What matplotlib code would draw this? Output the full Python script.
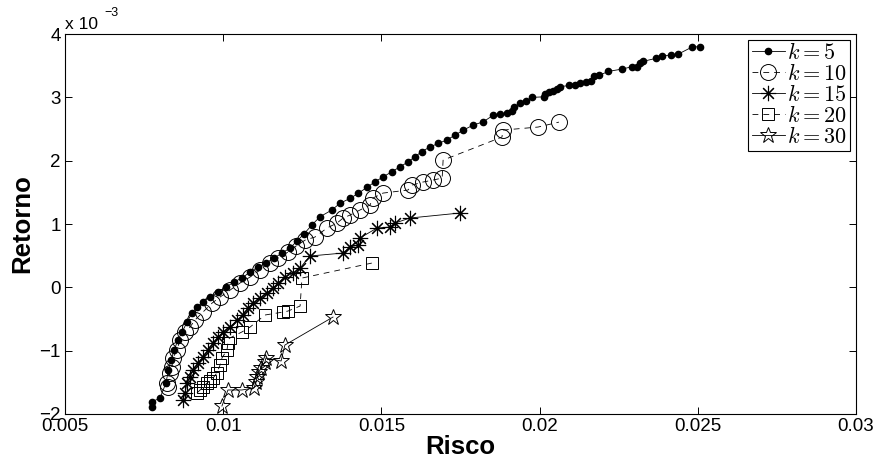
import matplotlib
matplotlib.use('Agg')
import matplotlib.pyplot as plt

plt.rcParams['font.family'] = ['Liberation Sans', 'DejaVu Sans']
plt.rcParams['mathtext.fontset'] = 'cm'

# risco (x) e retorno (y, em unidades de 1e-3)
risco_k5 = [0.00774, 0.00774, 0.00800, 0.00819, 0.00827, 0.00835, 0.00845, 0.00857,
            0.00870, 0.00886, 0.00901, 0.00917, 0.00936, 0.00958, 0.00984, 0.01009,
            0.01034, 0.01059, 0.01085, 0.01110, 0.01135, 0.01161, 0.01186, 0.01211,
            0.01233, 0.01255, 0.01280, 0.01306, 0.01343, 0.01369, 0.01401, 0.01427,
            0.01454, 0.01480, 0.01506, 0.01533, 0.01559, 0.01585, 0.01606, 0.01627,
            0.01654, 0.01680, 0.01706, 0.01733, 0.01759, 0.01790, 0.01822, 0.01854,
            0.01875, 0.01896, 0.01912, 0.01919, 0.01938, 0.01957, 0.01975, 0.02014,
            0.02017, 0.02031, 0.02043, 0.02054, 0.02064, 0.02094, 0.02112, 0.02128,
            0.02146, 0.02162, 0.02173, 0.02188, 0.02217, 0.02260, 0.02291, 0.02307,
            0.02317, 0.02326, 0.02367, 0.02386, 0.02414, 0.02438, 0.02483, 0.02507]
ret_k5 = [-1.885, -1.806, -1.753, -1.511, -1.306, -1.148, -0.990, -0.832,
          -0.705, -0.548, -0.405, -0.311, -0.232, -0.153, -0.074, 0.005,
          0.084, 0.147, 0.242, 0.321, 0.384, 0.463, 0.542, 0.621,
          0.731, 0.842, 0.984, 1.115, 1.221, 1.327, 1.406, 1.485,
          1.579, 1.668, 1.747, 1.826, 1.905, 1.984, 2.063, 2.142,
          2.220, 2.274, 2.326, 2.405, 2.484, 2.563, 2.615, 2.721,
          2.737, 2.748, 2.789, 2.843, 2.906, 2.942, 3.000, 3.010,
          3.053, 3.089, 3.105, 3.132, 3.168, 3.190, 3.190, 3.226,
          3.242, 3.253, 3.337, 3.348, 3.411, 3.447, 3.484, 3.484,
          3.537, 3.569, 3.616, 3.657, 3.668, 3.684, 3.799, 3.799]

risco_k10 = [0.00826, 0.00822, 0.00832, 0.00838, 0.00841, 0.00854, 0.00863, 0.00879,
             0.00895, 0.00911, 0.00936, 0.00965, 0.00990, 0.01022, 0.01053, 0.01085,
             0.01116, 0.01148, 0.01173, 0.01205, 0.01230, 0.01259, 0.01290, 0.01328,
             0.01360, 0.01379, 0.01401, 0.01432, 0.01464, 0.01473, 0.01505, 0.01584,
             0.01597, 0.01631, 0.01663, 0.01692, 0.01695, 0.01881, 0.01884, 0.01995,
             0.02061]
ret_k10 = [-1.574, -1.511, -1.353, -1.258, -1.116, -0.990, -0.832, -0.705,
           -0.627, -0.516, -0.390, -0.248, -0.153, -0.042, 0.068, 0.163,
           0.273, 0.384, 0.463, 0.558, 0.652, 0.747, 0.795, 0.937,
           1.016, 1.095, 1.142, 1.221, 1.300, 1.410, 1.489, 1.537,
           1.616, 1.663, 1.695, 1.726, 2.010, 2.374, 2.484, 2.532,
           2.610]

risco_k15 = [0.00873, 0.00879, 0.00886, 0.00895, 0.00905, 0.00920, 0.00936, 0.00952,
             0.00968, 0.00984, 0.00999, 0.01021, 0.01044, 0.01063, 0.01078, 0.01094,
             0.01116, 0.01138, 0.01157, 0.01173, 0.01195, 0.01221, 0.01243, 0.01274,
             0.01379, 0.01401, 0.01426, 0.01432, 0.01486, 0.01527, 0.01543, 0.01590,
             0.01748]
ret_k15 = [-1.779, -1.669, -1.511, -1.416, -1.306, -1.195, -1.100, -0.990,
           -0.879, -0.784, -0.705, -0.627, -0.516, -0.437, -0.327, -0.248,
           -0.169, -0.090, -0.011, 0.068, 0.163, 0.226, 0.305, 0.495,
           0.542, 0.637, 0.668, 0.779, 0.937, 0.953, 1.016, 1.095,
           1.174]

risco_k20 = [0.00917, 0.00927, 0.00936, 0.00949, 0.00958, 0.00968, 0.00980, 0.00990,
             0.00996, 0.01012, 0.01015, 0.01021, 0.01059, 0.01085, 0.01132, 0.01189,
             0.01205, 0.01243, 0.01249, 0.01470]
ret_k20 = [-1.669, -1.621, -1.574, -1.511, -1.479, -1.432, -1.353, -1.227,
           -1.116, -0.990, -0.879, -0.800, -0.705, -0.627, -0.437, -0.390,
           -0.374, -0.295, 0.147, 0.384]

risco_k30 = [0.00996, 0.01015, 0.01059, 0.01097, 0.01104, 0.01107, 0.01113, 0.01119,
             0.01132, 0.01135, 0.01183, 0.01195, 0.01347]
ret_k30 = [-1.874, -1.621, -1.621, -1.590, -1.495, -1.416, -1.337, -1.274,
           -1.179, -1.116, -1.163, -0.911, -0.469]

fig = plt.figure(figsize=(8.77, 4.61), dpi=100)
ax = fig.add_axes([0.0741, 0.102, 0.902, 0.824])

lw = 0.6
dash = (7, 6)
ax.plot(risco_k5, ret_k5, '-', color='k', lw=lw, marker='o', ms=4.5, mfc='k', mec='k',
        label=r'$k=5$')
ax.plot(risco_k10, ret_k10, '--', dashes=dash, color='k', lw=lw, marker='o', ms=11.5,
        mfc='none', mec='k', mew=0.7, label=r'$k=10$')
ax.plot(risco_k15, ret_k15, '-', color='k', lw=lw, marker=(8, 2, 0), ms=11, mec='k',
        mew=0.8, label=r'$k=15$')
ax.plot(risco_k20, ret_k20, '--', dashes=dash, color='k', lw=lw, marker='s', ms=9,
        mfc='none', mec='k', mew=0.7, label=r'$k=20$')
ax.plot(risco_k30, ret_k30, '-', color='k', lw=lw, marker='*', ms=12, mfc='none',
        mec='k', mew=0.7, label=r'$k=30$')

ax.set_xlim(0.005, 0.03)
ax.set_ylim(-2, 4)
ax.set_xticks([0.005, 0.01, 0.015, 0.02, 0.025, 0.03])
ax.set_xticklabels(['0.005', '0.01', '0.015', '0.02', '0.025', '0.03'])
ax.set_yticks([-2, -1, 0, 1, 2, 3, 4])
ax.set_yticklabels(['\u22122', '\u22121', '0', '1', '2', '3', '4'])
ax.tick_params(direction='in', length=5, width=0.7, labelsize=13.5,
               top=True, right=True, pad=3)
for s in ax.spines.values():
    s.set_linewidth(0.8)

ax.set_xlabel('Risco', fontsize=18.5, fontweight='bold', labelpad=0)
ax.set_ylabel('Retorno', fontsize=18.5, fontweight='bold', labelpad=4)

ax.text(0.0, 1.005, 'x 10', transform=ax.transAxes, fontsize=12.5, va='bottom', ha='left')
ax.text(0.05, 1.04, '\u22123', transform=ax.transAxes, fontsize=9, va='bottom', ha='left')

leg = ax.legend(loc='upper right', fontsize=16, numpoints=1, handlelength=1.5,
                handletextpad=0.1, labelspacing=0.0, borderpad=0.15,
                borderaxespad=0.25, fancybox=False, framealpha=1, edgecolor='k')
leg.get_frame().set_linewidth(0.8)

fig.savefig('out.png', dpi=100)
